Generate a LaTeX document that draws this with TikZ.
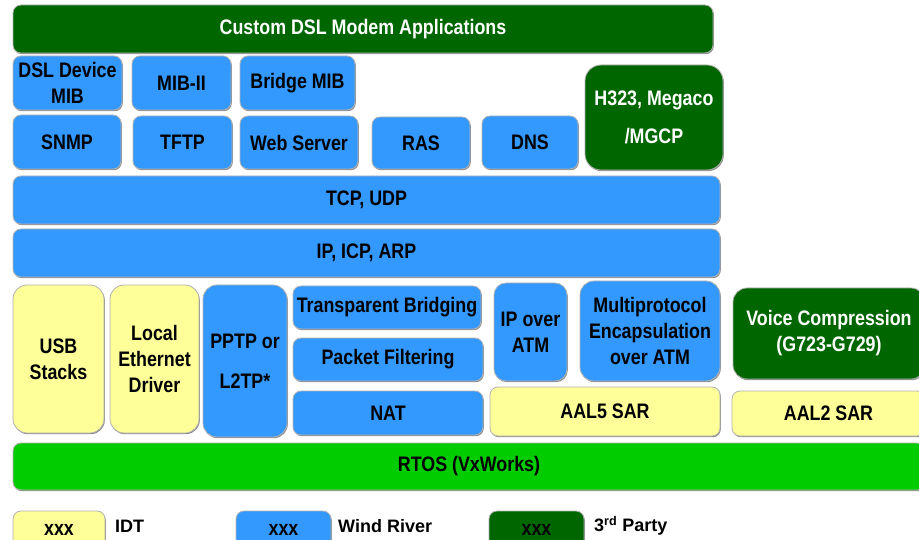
\documentclass[tikz,border=0pt]{standalone}
\usepackage{fontspec}
\setmainfont{Liberation Sans}[FakeStretch=0.85]
\newfontfamily\legfont{Liberation Sans}
\usepackage{tikz}
\usetikzlibrary{shadows}
\definecolor{wrblue}{rgb}{0.2,0.6,1}
\definecolor{idtyellow}{rgb}{1,1,0.6}
\definecolor{tpgreen}{rgb}{0,0.4,0}
\definecolor{osgreen}{rgb}{0,0.8,0}

\begin{document}
\begin{tikzpicture}[x=1pt,y=-1pt,
  blk/.style={draw=black!30,line width=0.8pt,rounded corners=8pt,inner sep=0pt,align=center,
    font=\bfseries\fontsize{21}{26}\selectfont,
    drop shadow={shadow xshift=0.8pt,shadow yshift=-1.2pt,fill=black!45,opacity=1}},
  wr/.style={blk,fill=wrblue},
  idt/.style={blk,fill=idtyellow},
  tp/.style={blk,fill=tpgreen,text=white},
  os/.style={blk,fill=osgreen},
  key/.style={font=\legfont\bfseries\fontsize{18}{20}\selectfont,anchor=west,inner sep=0pt}]
\useasboundingbox (0,0) rectangle (919,540);
% applications
\node[tp,minimum width=700,minimum height=48] (app) at (363,29) {Custom DSL Modem Applications};
\node[wr,minimum width=109,minimum height=54] (dslmib) at (67.5,83) {DSL Device\\MIB};
\node[wr,minimum width=99,minimum height=54] (mibii) at (181.5,83) {MIB-II};
\node[wr,minimum width=115,minimum height=54] (bridgemib) at (297.5,83) {Bridge MIB};
\node[wr,minimum width=108,minimum height=54] (snmp) at (67,142) {SNMP};
\node[wr,minimum width=99,minimum height=53] (tftp) at (182.5,142.5) {TFTP};
\node[wr,minimum width=118,minimum height=53] (web) at (299,142.5) {Web Server};
\node[wr,minimum width=98,minimum height=52] (ras) at (421,143) {RAS};
\node[wr,minimum width=96,minimum height=53] (dns) at (530,142.5) {DNS};
\node[tp,rounded corners=16pt,minimum width=138,minimum height=105] (h323) at (654,117.5) {H323, Megaco\\[12pt]/MGCP};
% transport and network
\node[wr,minimum width=707,minimum height=48] (tcp) at (366.5,200) {TCP, UDP};
\node[wr,minimum width=707,minimum height=48] (ip) at (366.5,253) {IP, ICP, ARP};
% drivers and link layer
\node[idt,rounded corners=14pt,minimum width=91,minimum height=148] (usb) at (58.5,359) {USB\\Stacks};
\node[idt,rounded corners=14pt,minimum width=89,minimum height=148] (eth) at (154.5,359) {Local\\Ethernet\\Driver};
\node[wr,rounded corners=14pt,minimum width=84,minimum height=152] (pptp) at (245,361) {PPTP or\\[14pt]L2TP*};
\node[wr,minimum width=188,minimum height=43] (bridging) at (387,307.5) {Transparent Bridging};
\node[wr,minimum width=190,minimum height=43] (filter) at (388,359.5) {Packet Filtering};
\node[wr,minimum width=190,minimum height=44] (nat) at (388,413) {NAT};
\node[wr,rounded corners=12pt,minimum width=73,minimum height=98] (ipatm) at (530.5,332) {IP over\\ATM};
\node[wr,rounded corners=14pt,minimum width=140,minimum height=100] (mpoa) at (650,331) {Multiprotocol\\Encapsulation\\over ATM};
\node[idt,minimum width=230,minimum height=49] (aalfive) at (605,411.5) {AAL5 SAR};
\node[tp,rounded corners=14pt,minimum width=192,minimum height=91] (voice) at (829,333.5) {Voice Compression\\(G723-G729)};
\node[idt,minimum width=193,minimum height=45] (aaltwo) at (828.5,413.5) {AAL2 SAR};
\node[os,minimum width=912,minimum height=47] (rtos) at (469,466.5) {RTOS (VxWorks)};
% legend
\node[idt,minimum width=92,minimum height=37] (keyidt) at (59,529.5) {xxx};
\node[key] (lblidt) at (115,526) {IDT};
\node[wr,minimum width=95,minimum height=37] (keywr) at (283.5,529.5) {xxx};
\node[key] (lblwr) at (338,526) {Wind River};
\node[tp,text=black,minimum width=95,minimum height=37] (keytp) at (536.5,529.5) {xxx};
\node[key] (lbltp) at (594,526) {3\textsuperscript{rd} Party};
\end{tikzpicture}
\end{document}
